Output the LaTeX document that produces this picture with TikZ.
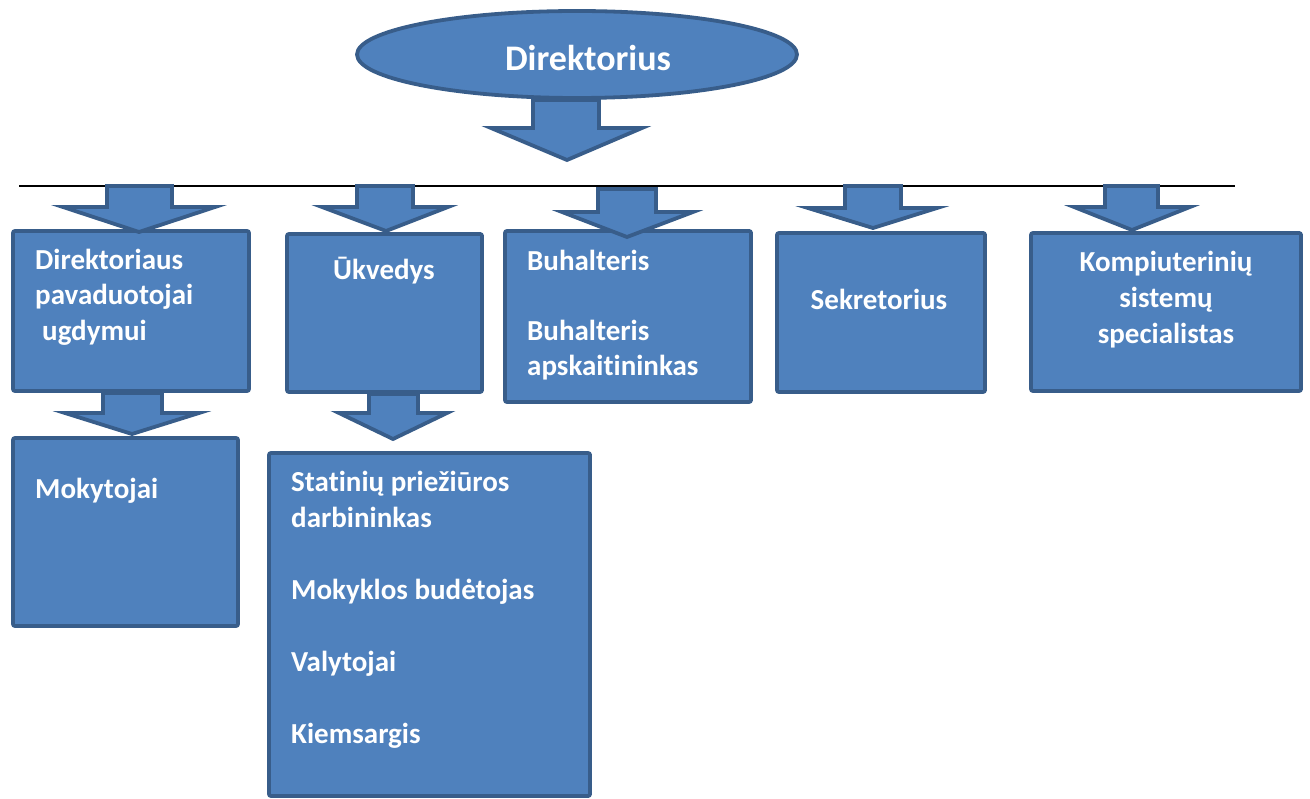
\documentclass[tikz,border=0pt]{standalone}
\usepackage{fontspec}
\setmainfont{Carlito}[Ligatures=NoCommon]
\usetikzlibrary{shapes.geometric}
\definecolor{boxfill}{HTML}{4F81BD}
\definecolor{boxline}{HTML}{385D8A}
\tikzset{
  shapestyle/.style={fill=boxfill, draw=boxline, line width=3.8pt},
  box/.style={shapestyle, rounded corners=2pt, anchor=north west, inner sep=0pt, outer sep=0pt},
  lbl/.style={text=white, font=\fontsize{29}{36}\selectfont\bfseries, inner sep=0pt, anchor=base west},
  clbl/.style={lbl, anchor=base},
  rule/.style={draw=black, line width=1.3pt},
}
% shaft left, shaft right, top, neck, head left, head right, tip x, tip y
\newcommand\blockarrow[8]{%
  \draw[shapestyle, line join=miter] (#1,#3) -- (#2,#3) -- (#2,#4) -- (#6,#4) -- (#7,#8) -- (#5,#4) -- (#1,#4) -- cycle;}
\begin{document}
\begin{tikzpicture}[x=1pt,y=-1pt]
\useasboundingbox (0,0) rectangle (1310,799);

% horizontal rule
\coordinate (rl) at (19,186);
\coordinate (rr) at (1235,186);
\draw[rule] (rl) -- (rr);

% top ellipse
\node[ellipse, shapestyle, minimum width=440, minimum height=87, inner sep=0pt] (dir) at (577,54.5) {};
\node[clbl, font=\fontsize{36}{44}\selectfont\bfseries] (dirt) at (588,71) {Direktorius};

% boxes
\node[box, minimum width=236, minimum height=160] (b1) at (13,231) {};
\node[box, minimum width=195, minimum height=158] (b2) at (287,234) {};
\node[box, minimum width=246, minimum height=171] (b3) at (505,231) {};
\node[box, minimum width=208, minimum height=159] (b4) at (777,233) {};
\node[box, minimum width=270, minimum height=158] (b5) at (1031,233) {};
\node[box, minimum width=225, minimum height=188] (b6) at (13,438) {};
\node[box, minimum width=321, minimum height=343] (b7) at (269,453) {};

% arrows
\blockarrow{533}{599}{100}{128}{491}{642}{567}{160}
\blockarrow{107}{172}{186}{207}{63}{215}{139}{232}
\blockarrow{357}{413}{186}{207}{322}{448}{386}{231}
\blockarrow{598}{656}{189}{212}{562}{693}{627}{237}
\blockarrow{845}{901}{186}{208}{808}{937}{873}{228}
\blockarrow{1105}{1158}{186}{207}{1074}{1190}{1132}{230}
\blockarrow{103}{162}{393}{413}{65}{199}{132}{434}
\blockarrow{369}{418}{394}{413}{339}{447}{393}{439}

% texts
\node[lbl] (t1a) at (35,270) {Direktoriaus};
\node[lbl] (t1b) at (35,305) {pavaduotojai};
\node[lbl] (t1c) at (42,341) {ugdymui};
\node[lbl] (t2) at (333,280) {Ūkvedys};
\node[lbl] (t3a) at (527,271) {Buhalteris};
\node[lbl] (t3b) at (527,341) {Buhalteris};
\node[lbl] (t3c) at (527,376) {apskaitininkas};
\node[clbl] (t4) at (879,310) {Sekretorius};
\node[clbl] (t5a) at (1166,272) {Kompiuterinių};
\node[clbl] (t5b) at (1166,308) {sistemų};
\node[clbl] (t5c) at (1166,344) {specialistas};
\node[lbl] (t6) at (35,499) {Mokytojai};
\node[lbl] (t7a) at (291,492) {Statinių priežiūros};
\node[lbl] (t7b) at (291,527) {darbininkas};
\node[lbl] (t7c) at (291,599) {Mokyklos budėtojas};
\node[lbl] (t7d) at (291,671) {Valytojai};
\node[lbl] (t7e) at (291,743) {Kiemsargis};
\end{tikzpicture}
\end{document}
